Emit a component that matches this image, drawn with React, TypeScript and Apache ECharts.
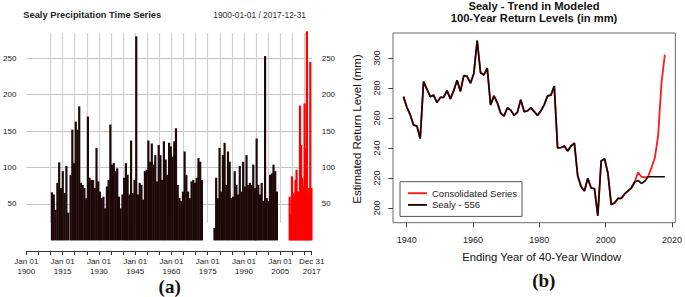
import React, { useEffect, useRef } from "react";
import * as echarts from "echarts";

const FONT = '"Liberation Sans", Arial, Helvetica, sans-serif';
const SERIF = '"Liberation Serif", "Times New Roman", serif';

// ---------- Left panel: Sealy precipitation (mm), peaks ----------
const seg1Range = [1910.6, 1917.3];
const seg1Values = [66, 63, 42, 79, 107, 72, 95, 65, 102, 38];

const seg2Range = [1918.3, 1972.6];
const seg2Values = [
  90, 152, 106, 163, 152, 184, 79, 76, 72, 58, 170, 86, 83, 83, 72, 127, 81, 67, 58, 60,
  44, 74, 83, 159, 104, 106, 95, 99, 60, 44, 63, 86, 106, 90, 63, 137, 65, 83, 280, 63,
  79, 76, 56, 95, 97, 137, 108, 133, 104, 117, 81, 131, 117,
  83, 136, 111, 90, 134, 129, 115, 136, 154, 76, 58, 54, 67, 122, 90, 67, 58, 81, 83, 79,
  86, 113, 108, 83,
];

const seg3Range = [1977.8, 2003.6];
const seg3Values = [
  17, 86, 58, 127, 67, 117, 134, 76, 122, 108, 58, 60, 95, 76, 63, 102, 67, 108, 74, 117,
  76, 79, 76, 104, 72, 140, 76, 63, 79, 54, 253, 58, 54, 90, 92, 104, 95, 67,
];

// consolidated (red) segment
const seg4Range = [2008.9, 2017.9];
const seg4Values = [60, 35, 88, 65, 63, 83, 97, 67, 67, 185, 131, 86, 74, 188, 126, 287, 62, 72, 245, 72];

const gridYears = [
  1910, 1915, 1920, 1925, 1930, 1935, 1940, 1945, 1950, 1955, 1960, 1965, 1970, 1975,
  1980, 1985, 1990, 1995, 2000, 2005, 2010, 2015,
];
const xLabelYears = [1900, 1915, 1930, 1945, 1960, 1975, 1990, 2005];
const leftYLabels = [50, 100, 150, 200, 250];

// ---------- Right panel: 100-year return levels (mm) ----------
const windowYears = [
  1939, 1940, 1941, 1942, 1943, 1944, 1945, 1946, 1947, 1948, 1949, 1950, 1951, 1952, 1953,
  1954, 1955, 1956, 1957, 1958, 1959, 1960, 1961, 1962, 1963, 1964, 1965, 1966, 1967, 1968,
  1969, 1970, 1971, 1972, 1973, 1974, 1975, 1976, 1977, 1978, 1979, 1980, 1981, 1982, 1983,
  1984, 1985, 1986, 1987, 1988, 1989, 1990, 1991, 1992, 1993, 1994, 1995, 1996, 1997, 1998,
  1999, 2000, 2001, 2002, 2003, 2004, 2005, 2006, 2007, 2008, 2009, 2010, 2011, 2012, 2013,
  2014, 2015, 2016, 2017,
];
const sealyLevels = [
  274, 267, 262, 255, 254.5, 246, 284, 279, 274, 275, 270, 273.5, 273.5, 278, 272.5,
  278, 285, 277.5, 288, 287.5, 283, 289.5, 311.5, 290, 288.5, 293, 268.5, 274.5, 270, 263,
  261, 266.5, 265, 261.5, 263.5, 272, 264, 264.5, 266.5, 264, 261.5, 264.5, 268.5, 274.5, 275,
  281, 239.8, 240, 241, 237.7, 241, 243, 221, 214, 211, 219.5, 213, 212.5, 194.5, 231,
  232.5, 223, 202, 203, 206, 206, 209, 211, 213, 217, 218, 216, 217.5, 220.5, 220.5,
  220.5, 220.5, 220.5, 220.5,
];
const consolidatedFromYear = 2008;
const consolidatedTail = [217, 223.5, 220.5, 220, 220.5, 226.5, 233, 248, 283, 302];

function segmentPoints(range: number[], values: number[]) {
  const n = values.length;
  return values.map((v, i) => [range[0] + ((range[1] - range[0]) * i) / (n - 1), v]);
}

const BAR_W = 2.2;
function renderBar(_params: any, api: any) {
  const top = api.coord([api.value(0), api.value(1)]);
  const base = api.coord([api.value(0), 0]);
  return {
    type: "rect",
    shape: { x: top[0] - BAR_W / 2, y: top[1], width: BAR_W, height: base[1] - top[1] },
    style: { fill: api.visual("color") },
  };
}

export default function App() {
  const ref = useRef<HTMLDivElement>(null);

  useEffect(() => {
    if (!ref.current) return;
    const chart = echarts.init(ref.current, undefined, { renderer: "svg" });

    const blackBars = [
      ...segmentPoints(seg1Range, seg1Values),
      ...segmentPoints(seg2Range, seg2Values),
      ...segmentPoints(seg3Range, seg3Values),
    ];
    const redBars = segmentPoints(seg4Range, seg4Values);

    const cutIdx = windowYears.indexOf(consolidatedFromYear);
    const consolidated = [...sealyLevels.slice(0, cutIdx), ...consolidatedTail];

    const axisText = { color: "#222", fontFamily: FONT };
    const lineIcon = "path://M0,0 L20,0 L20,2 L0,2 Z";

    const option: any = {
      animation: false,
      backgroundColor: "#fff",
      textStyle: { fontFamily: FONT },
      grid: [
        { left: 23.3, right: 685 - 311.7, top: 29.1, bottom: 297 - 240.4 },
        {
          left: 393, right: 9.7, top: 33, bottom: 74.3,
          show: true, borderColor: "#6a6a6a", borderWidth: 1, backgroundColor: "transparent",
        },
        { left: 406.7, right: 10, top: 33, bottom: 74.3 },
        { left: 393, right: 9.7, top: 58, bottom: 89 },
      ],
      xAxis: [
        {
          type: "value", gridIndex: 0, min: 1900, max: 2018, interval: 5,
          offset: 10.6,
          axisLine: { show: true, onZero: false, lineStyle: { color: "#333", width: 1 } },
          axisTick: { show: true, length: 4, lineStyle: { color: "#333" } },
          splitLine: { show: false },
          axisLabel: {
            ...axisText, fontSize: 8, lineHeight: 9.5, margin: 6, interval: 0,
            showMinLabel: true, showMaxLabel: true,
            formatter: (v: number) => {
              if (Math.abs(v - 2018) < 0.01) return "Dec 31\n2017";
              const r = Math.round(v);
              if (Math.abs(v - r) < 0.01 && xLabelYears.includes(r)) return "Jan 01\n" + r;
              return "";
            },
          },
        },
        { type: "value", gridIndex: 1, min: 1935.88, max: 2020.12, show: false },
        {
          type: "value", gridIndex: 2, min: 1940, max: 2020, interval: 20,
          axisLine: { show: false },
          axisTick: { show: true, length: 4.7, lineStyle: { color: "#444" } },
          splitLine: { show: false },
          axisLabel: { ...axisText, fontSize: 9, margin: 12.5, formatter: (v: number) => String(v) },
        },
        { type: "value", gridIndex: 3, min: 0, max: 1, show: false },
      ],
      yAxis: [
        {
          type: "value", gridIndex: 0, min: 0, max: 290, interval: 50, position: "left",
          axisLine: { show: false }, axisTick: { show: false },
          splitLine: {
            show: true, showMinLine: false, showMaxLine: false,
            lineStyle: { color: "#c4c4c4", width: 1 },
          },
          axisLabel: {
            ...axisText, fontSize: 8, margin: 10,
            formatter: (v: number) => (leftYLabels.includes(v) ? String(v) : ""),
          },
        },
        {
          type: "value", gridIndex: 0, min: 0, max: 290, interval: 50, position: "right",
          axisLine: { show: false }, axisTick: { show: false }, splitLine: { show: false },
          axisLabel: {
            ...axisText, fontSize: 8, margin: 10,
            formatter: (v: number) => (leftYLabels.includes(v) ? String(v) : ""),
          },
        },
        { type: "value", gridIndex: 1, min: 189.8, max: 316.5, show: false },
        { type: "value", gridIndex: 2, min: 0, max: 1, show: false },
        {
          type: "value", gridIndex: 3, min: 200, max: 300, interval: 20, position: "left",
          axisLine: { show: false },
          axisTick: { show: true, length: 4.7, lineStyle: { color: "#444" } },
          splitLine: { show: false },
          axisLabel: { ...axisText, fontSize: 9, margin: 12, rotate: 90, formatter: (v: number) => String(v) },
        },
      ],
      legend: {
        data: [
          { name: "Consolidated Series", icon: lineIcon },
          { name: "Sealy - 556", icon: lineIcon },
        ],
        orient: "vertical",
        left: 400, top: 181.7,
        backgroundColor: "#fff",
        borderColor: "#555", borderWidth: 1, borderRadius: 0,
        padding: [6.5, 5, 6.5, 8],
        itemWidth: 19, itemHeight: 10, itemGap: 1.7,
        textStyle: { fontSize: 9.5, color: "#222", fontFamily: FONT },
      },
      series: [
        {
          type: "line", xAxisIndex: 0, yAxisIndex: 0, data: [], z: 1, silent: true,
          markLine: {
            z: 1, silent: true, symbol: ["none", "none"], label: { show: false },
            lineStyle: { color: "#cfcfcf", width: 1.2, type: "solid" },
            emphasis: { disabled: true },
            data: gridYears.map((y) => [{ coord: [y, 24] }, { coord: [y, 284.6] }]),
          },
        },
        {
          type: "custom", xAxisIndex: 0, yAxisIndex: 0, z: 3, silent: true,
          itemStyle: { color: "#1e0909" },
          encode: { x: 0, y: 1 },
          data: blackBars, renderItem: renderBar,
        },
        {
          type: "custom", xAxisIndex: 0, yAxisIndex: 0, z: 3, silent: true,
          itemStyle: { color: "#ff0000" },
          encode: { x: 0, y: 1 },
          data: redBars, renderItem: renderBar,
        },
        {
          name: "Consolidated Series", type: "line", xAxisIndex: 1, yAxisIndex: 2,
          data: windowYears.map((y, i) => [y, consolidated[i]]),
          symbol: "none", showSymbol: false, color: "#ff1a1a",
          itemStyle: { color: "#ff1a1a" },
          lineStyle: { color: "#ff1a1a", width: 1.8 }, z: 3,
        },
        {
          name: "Sealy - 556", type: "line", xAxisIndex: 1, yAxisIndex: 2,
          data: windowYears.map((y, i) => [y, sealyLevels[i]]),
          symbol: "none", showSymbol: false, color: "#1a0808",
          itemStyle: { color: "#1a0808" },
          lineStyle: { color: "#1a0808", width: 1.7 }, z: 4,
        },
      ],
      graphic: [
        {
          type: "text", x: 23.3, y: 15,
          style: {
            text: "Sealy Precipitation Time Series", fontSize: 9.3, fontWeight: "bold",
            fontFamily: FONT, fill: "#222", align: "left", verticalAlign: "middle",
          },
        },
        {
          type: "text", x: 213.3, y: 15,
          style: {
            text: "1900-01-01 / 2017-12-31", fontSize: 8.4,
            fontFamily: FONT, fill: "#333", align: "left", verticalAlign: "middle",
          },
        },
        {
          type: "text", x: 534, y: 5.5,
          style: {
            text: "Sealy - Trend in Modeled", fontSize: 11.2, fontWeight: "bold",
            fontFamily: FONT, fill: "#111", align: "center", verticalAlign: "middle",
          },
        },
        {
          type: "text", x: 534, y: 18.3,
          style: {
            text: "100-Year Return Levels (in mm)", fontSize: 11.2, fontWeight: "bold",
            fontFamily: FONT, fill: "#111", align: "center", verticalAlign: "middle",
          },
        },
        {
          type: "text", x: 541.7, y: 257.3,
          style: {
            text: "Ending Year of 40-Year Window", fontSize: 11.3,
            fontFamily: FONT, fill: "#111", align: "center", verticalAlign: "middle",
          },
        },
        {
          type: "text", x: 356.7, y: 129, rotation: Math.PI / 2,
          style: {
            text: "Estimated Return Level (mm)", fontSize: 11.5,
            fontFamily: FONT, fill: "#111", align: "center", verticalAlign: "middle",
          },
        },
        {
          type: "text", x: 169.7, y: 286,
          style: {
            text: "(a)", fontSize: 19, fontWeight: "bold",
            fontFamily: SERIF, fill: "#111", align: "center", verticalAlign: "middle",
          },
        },
        {
          type: "text", x: 543.8, y: 280,
          style: {
            text: "(b)", fontSize: 19, fontWeight: "bold",
            fontFamily: SERIF, fill: "#111", align: "center", verticalAlign: "middle",
          },
        },
      ],
    };

    chart.setOption(option);
    return () => chart.dispose();
  }, []);

  return (
    <div
      ref={ref}
      style={{ position: "absolute", left: 0, top: 0, width: 685, height: 297, background: "#fff" }}
    />
  );
}
